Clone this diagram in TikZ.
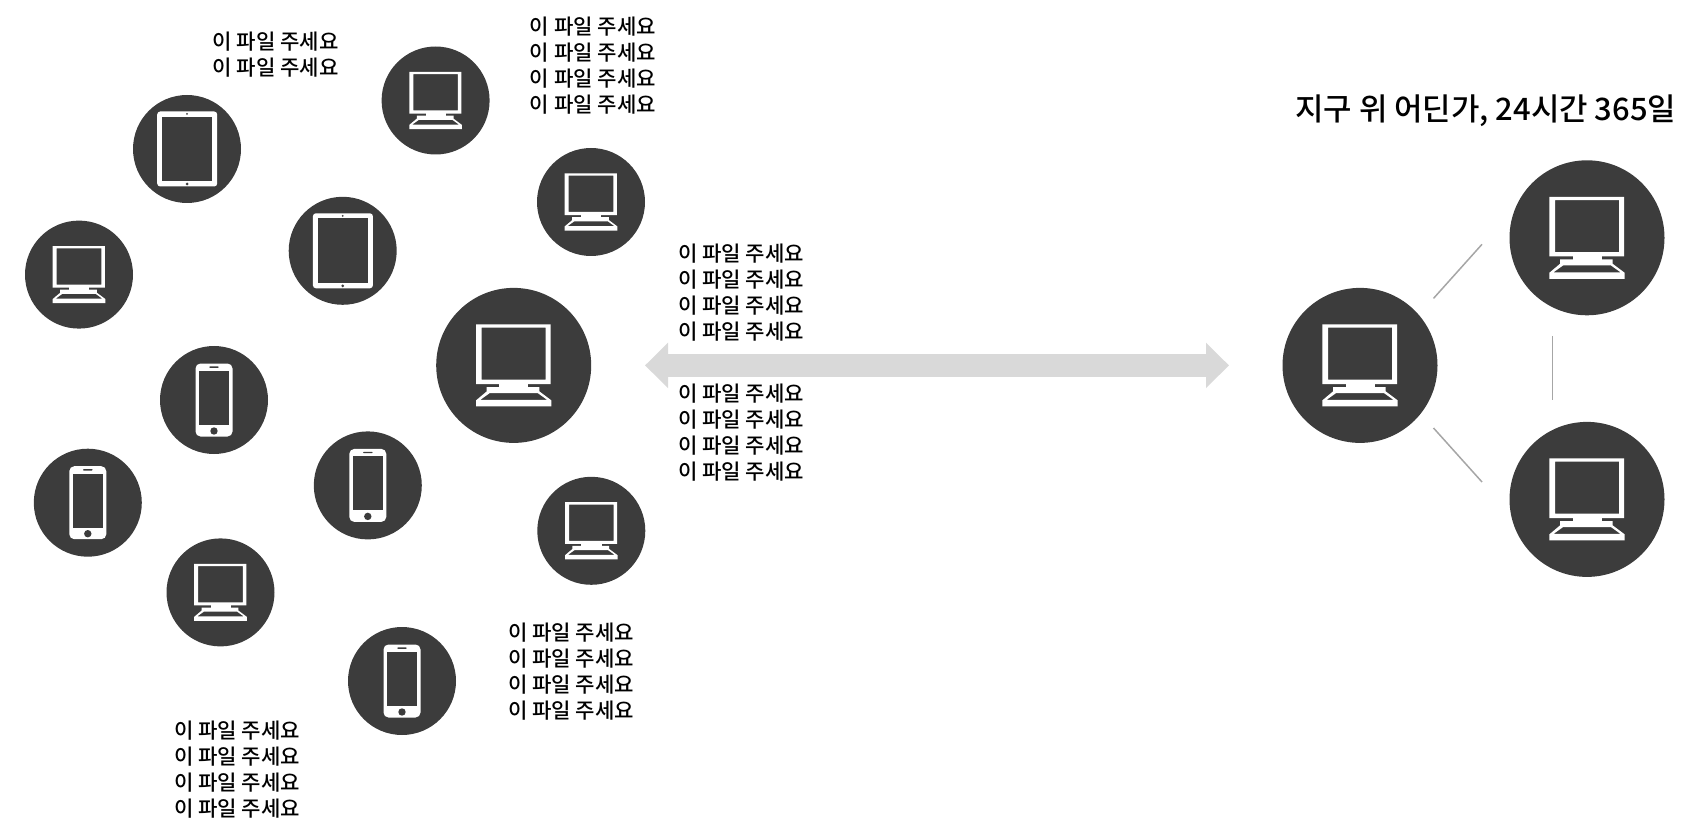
\documentclass[tikz,border=0pt]{standalone}
\usepackage{fontspec}
\usetikzlibrary{arrows.meta}
\newfontfamily\krfont{Noto Sans CJK KR Medium}
\definecolor{disc}{HTML}{3C3C3C}
\definecolor{band}{HTML}{D9D9D9}
\definecolor{link}{HTML}{A6A6A6}
\tikzset{
  smalldisc/.style={circle,fill=disc,minimum size=108pt,inner sep=0pt},
  bigdisc/.style={circle,fill=disc,minimum size=155pt,inner sep=0pt},
  asktext/.style={inner sep=0pt,anchor=west,align=left,font=\krfont\fontsize{21.1}{26}\selectfont},
  titletext/.style={inner sep=0pt,anchor=west,font=\krfont\fontsize{30.9}{36}\selectfont},
  linkline/.style={draw=link,line width=1.5pt},
  monitoricon/.pic={
    \fill[white,even odd rule]
      (-37.7,-41) rectangle (37,18.7)
      (-32,-37.7) rectangle (32,14.3);
    \fill[white] (-14.3,18) rectangle (14.7,22);
    \fill[white,even odd rule]
      (-27,21.7) -- (25.7,21.7) -- (25.7,26) -- (37.7,35) -- (37.7,41) -- (-37.7,41) -- (-37.7,35) -- (-27,26) -- cycle
      (-24,27.7) -- (24,27.7) -- (33.5,34.5) -- (-33.5,34.5) -- cycle;
  },
  tableticon/.pic={
    \fill[white,rounded corners=3pt] (-29.8,-37.5) rectangle (30.2,37.5);
    \fill[disc] (-25,-32.3) rectangle (25.3,32);
    \fill[disc] (0,-35) circle (1pt);
    \fill[disc] (0,35) circle (1.5pt);
  },
  phoneicon/.pic={
    \fill[white,rounded corners=5pt] (-18.5,-36.5) rectangle (18.5,36.5);
    \fill[disc] (-15,-29) rectangle (15,25);
    \fill[disc,rounded corners=.6pt] (-4.7,-33.6) rectangle (4.7,-32.2);
    \fill[disc] (0,31) circle (3.7pt);
  },
}
\begin{document}
\begin{tikzpicture}[x=1pt,y=-1pt]
\useasboundingbox (0,0) rectangle (1695,826);
% discs
\node[smalldisc] (d1) at (435.6,100.5) {};
\node[smalldisc] (t1) at (187,149) {};
\node[smalldisc] (d2) at (79,274.6) {};
\node[smalldisc] (t2) at (342.7,250.8) {};
\node[smalldisc] (d3) at (591,202) {};
\node[bigdisc]   (hubL) at (513.7,365.4) {};
\node[smalldisc] (p1) at (214,400) {};
\node[smalldisc] (p2) at (87.8,502.7) {};
\node[smalldisc] (p3) at (367.8,485.4) {};
\node[smalldisc] (d4) at (591.3,530.8) {};
\node[smalldisc] (d5) at (220.5,592.4) {};
\node[smalldisc] (p4) at (402,681) {};
\node[bigdisc]   (hubR) at (1360,365.4) {};
\node[bigdisc]   (srvA) at (1587,237.8) {};
\node[bigdisc]   (srvB) at (1587,499.4) {};
% icons
\foreach \n in {d1,d2,d3,d4,d5} \pic[scale=.697,transform shape] at (\n) {monitoricon};
\foreach \n in {hubL,hubR,srvA,srvB} \pic at (\n) {monitoricon};
\foreach \n in {t1,t2} \pic at (\n) {tableticon};
\foreach \n in {p1,p2,p3,p4} \pic at (\n) {phoneicon};
% connector ends
\coordinate (aL) at (645,365.4);
\coordinate (aR) at (1229,365.4);
\coordinate (e1a) at (1433.5,298.4);
\coordinate (e1b) at (1482,244.3);
\coordinate (e2a) at (1433.5,428);
\coordinate (e2b) at (1482,482);
\coordinate (e3a) at (1552.5,336);
\coordinate (e3b) at (1552.5,400);
\draw[band,line width=23pt,{Triangle[width=44pt,length=23pt]}-{Triangle[width=44pt,length=23pt]}] (aL) -- (aR);
\draw[linkline] (e1a) -- (e1b);
\draw[linkline] (e2a) -- (e2b);
\draw[linkline] (e3a) -- (e3b);
% texts
\node[asktext] (tx1) at (212.5,55) {이 파일 주세요\\이 파일 주세요};
\node[asktext] (tx2) at (529.7,66) {이 파일 주세요\\이 파일 주세요\\이 파일 주세요\\이 파일 주세요};
\node[asktext] (tx3) at (678,293) {이 파일 주세요\\이 파일 주세요\\이 파일 주세요\\이 파일 주세요};
\node[asktext] (tx4) at (678,432.5) {이 파일 주세요\\이 파일 주세요\\이 파일 주세요\\이 파일 주세요};
\node[asktext] (tx5) at (508,672) {이 파일 주세요\\이 파일 주세요\\이 파일 주세요\\이 파일 주세요};
\node[asktext] (tx6) at (174,770) {이 파일 주세요\\이 파일 주세요\\이 파일 주세요\\이 파일 주세요};
\node[titletext] (title) at (1295,111) {지구 위 어딘가, 24시간 365일};
\end{tikzpicture}
\end{document}
